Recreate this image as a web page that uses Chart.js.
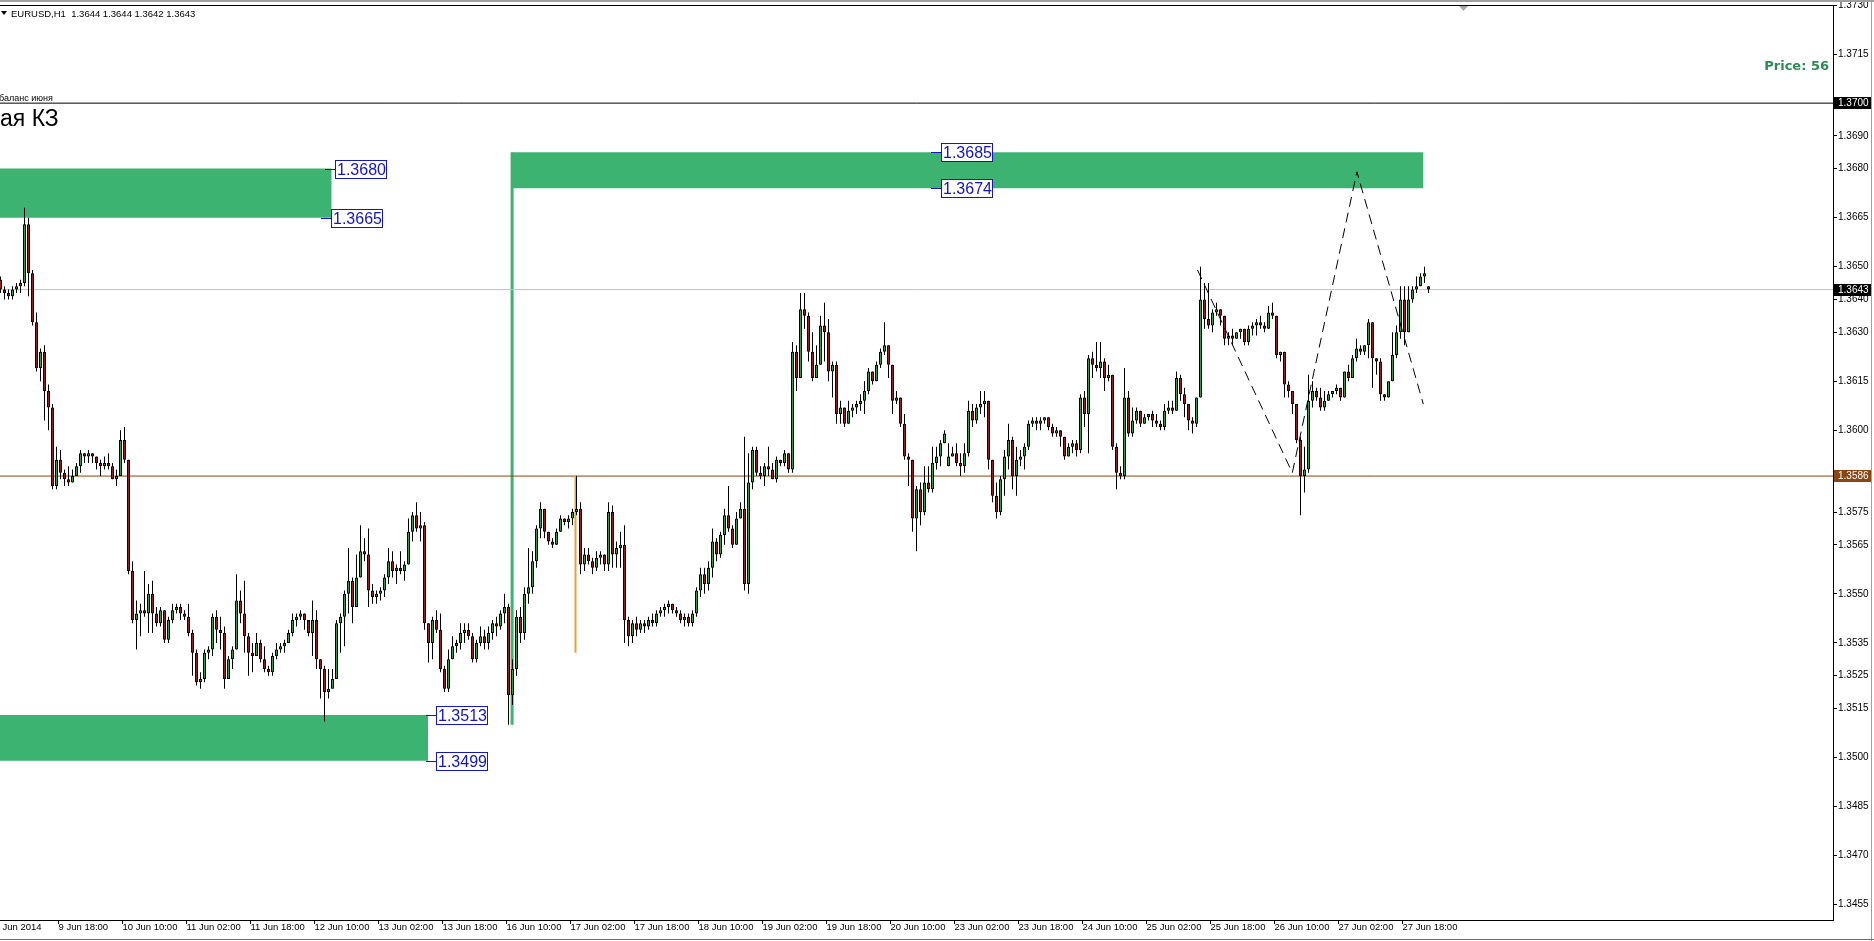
<!DOCTYPE html>
<html>
<head>
<meta charset="utf-8">
<title>EURUSD,H1</title>
<script src="https://cdn.jsdelivr.net/npm/chart.js@4.4.1/dist/chart.umd.min.js"></script>
<style>
  html, body { margin: 0; padding: 0; background: #fff; overflow: hidden; }
  canvas { display: block; }
</style>
</head>
<body>
<canvas id="chart" width="1874" height="941"></canvas>
<script>
// EURUSD H1, 9 Jun - 27 Jun 2014
const firstOpen = 1.3646;

const closes = [
  1.3643, 1.3642, 1.3641, 1.3643, 1.3644, 1.3645, 1.3663, 1.3648, 1.3633, 1.3619,
  1.3624, 1.3612, 1.3607, 1.3583, 1.3591, 1.3587, 1.3585, 1.3584, 1.3586, 1.3589,
  1.3593, 1.3592, 1.3593, 1.3592, 1.3590, 1.3589, 1.3590, 1.3589, 1.3585, 1.3586,
  1.3597, 1.3591, 1.3557, 1.3542, 1.3544, 1.3545, 1.3544, 1.3550, 1.3544, 1.3541,
  1.3545, 1.3536, 1.3542, 1.3545, 1.3546, 1.3544, 1.3543, 1.3538, 1.3532, 1.3523,
  1.3524, 1.3532, 1.3533, 1.3543, 1.3539, 1.3538, 1.3524, 1.3530, 1.3533, 1.3548,
  1.3544, 1.3537, 1.3532, 1.3531, 1.3535, 1.3530, 1.3527, 1.3526, 1.3531, 1.3533,
  1.3534, 1.3535, 1.3538, 1.3542, 1.3543, 1.3544, 1.3542, 1.3538, 1.3542, 1.3530,
  1.3527, 1.3520, 1.3521, 1.3524, 1.3541, 1.3543, 1.3550, 1.3554, 1.3546, 1.3555,
  1.3563, 1.3562, 1.3551, 1.3549, 1.3550, 1.3551, 1.3555, 1.3560, 1.3557, 1.3558,
  1.3557, 1.3559, 1.3569, 1.3574, 1.3570, 1.3571, 1.3541, 1.3535, 1.3542, 1.3539,
  1.3527, 1.3521, 1.3530, 1.3534, 1.3535, 1.3538, 1.3539, 1.3537, 1.3530, 1.3535,
  1.3537, 1.3535, 1.3538, 1.3541, 1.3540, 1.3544, 1.3546, 1.3519, 1.3527, 1.3543,
  1.3538, 1.3550, 1.3552, 1.3560, 1.3570, 1.3576, 1.3569, 1.3566, 1.3565, 1.3569,
  1.3573, 1.3572, 1.3573, 1.3575, 1.3576, 1.3559, 1.3562, 1.3560, 1.3558, 1.3561,
  1.3562, 1.3559, 1.3575, 1.3562, 1.3564, 1.3565, 1.3542, 1.3537, 1.3541, 1.3539,
  1.3541, 1.3540, 1.3542, 1.3541, 1.3544, 1.3545, 1.3546, 1.3547, 1.3545, 1.3544,
  1.3542, 1.3543, 1.3541, 1.3544, 1.3551, 1.3556, 1.3553, 1.3558, 1.3566, 1.3562,
  1.3568, 1.3574, 1.3570, 1.3565, 1.3573, 1.3576, 1.3553, 1.3584, 1.3594, 1.3587,
  1.3586, 1.3589, 1.3588, 1.3585, 1.3591, 1.3590, 1.3593, 1.3588, 1.3624, 1.3616,
  1.3637, 1.3635, 1.3624, 1.3616, 1.3620, 1.3632, 1.3630, 1.3618, 1.3620, 1.3605,
  1.3607, 1.3602, 1.3606, 1.3607, 1.3608, 1.3609, 1.3612, 1.3618, 1.3615, 1.3620,
  1.3624, 1.3626, 1.3620, 1.3609, 1.3610, 1.3602, 1.3592, 1.3591, 1.3573, 1.3582,
  1.3575, 1.3584, 1.3582, 1.3590, 1.3592, 1.3596, 1.3599, 1.3592, 1.3593, 1.3590,
  1.3589, 1.3593, 1.3606, 1.3603, 1.3607, 1.3608, 1.3609, 1.3591, 1.3580, 1.3575,
  1.3585, 1.3592, 1.3597, 1.3586, 1.3591, 1.3592, 1.3595, 1.3602, 1.3603, 1.3602,
  1.3603, 1.3604, 1.3601, 1.3599, 1.3600, 1.3598, 1.3592, 1.3595, 1.3596, 1.3594,
  1.3610, 1.3605, 1.3622, 1.3620, 1.3619, 1.3621, 1.3616, 1.3617, 1.3595, 1.3587,
  1.3586, 1.3610, 1.3599, 1.3603, 1.3606, 1.3602, 1.3604, 1.3605, 1.3603, 1.3602,
  1.3601, 1.3606, 1.3607, 1.3606, 1.3616, 1.3611, 1.3608, 1.3603, 1.3602, 1.3610,
  1.3640, 1.3634, 1.3632, 1.3636, 1.3637, 1.3635, 1.3628, 1.3629, 1.3628, 1.3630,
  1.3631, 1.3627, 1.3631, 1.3632, 1.3633, 1.3632, 1.3631, 1.3636, 1.3635, 1.3623,
  1.3624, 1.3614, 1.3612, 1.3608, 1.3597, 1.3586, 1.3588, 1.3609, 1.3612, 1.3610,
  1.3607, 1.3609, 1.3611, 1.3612, 1.3613, 1.3610, 1.3618, 1.3616, 1.3622, 1.3625,
  1.3624, 1.3626, 1.3633, 1.3622, 1.3621, 1.3611, 1.3610, 1.3615, 1.3623, 1.3630,
  1.3640, 1.3630, 1.3640, 1.3643, 1.3644, 1.3647, 1.3648, 1.3643
];

const highs = [
  1.3647, 1.3644, 1.3643, 1.3644, 1.3645, 1.3646, 1.3668, 1.3665, 1.3649, 1.3636,
  1.3625, 1.3626, 1.3614, 1.3608, 1.3595, 1.3594, 1.3588, 1.3589, 1.3588, 1.3590,
  1.3594, 1.3593, 1.3594, 1.3593, 1.3592, 1.3591, 1.3592, 1.3593, 1.3590, 1.3588,
  1.3600, 1.3601, 1.3591, 1.3560, 1.3548, 1.3547, 1.3557, 1.3553, 1.3554, 1.3546,
  1.3546, 1.3545, 1.3543, 1.3547, 1.3547, 1.3547, 1.3545, 1.3547, 1.3539, 1.3533,
  1.3526, 1.3533, 1.3534, 1.3544, 1.3545, 1.3543, 1.3540, 1.3531, 1.3534, 1.3556,
  1.3551, 1.3554, 1.3538, 1.3535, 1.3538, 1.3536, 1.3534, 1.3528, 1.3532, 1.3535,
  1.3535, 1.3536, 1.3539, 1.3544, 1.3544, 1.3545, 1.3544, 1.3542, 1.3548, 1.3545,
  1.3530, 1.3528, 1.3527, 1.3527, 1.3542, 1.3544, 1.3551, 1.3564, 1.3555, 1.3562,
  1.3571, 1.3567, 1.3570, 1.3553, 1.3551, 1.3552, 1.3556, 1.3564, 1.3563, 1.3559,
  1.3563, 1.3560, 1.3573, 1.3575, 1.3578, 1.3575, 1.3572, 1.3541, 1.3543, 1.3545,
  1.3544, 1.3528, 1.3533, 1.3537, 1.3536, 1.3541, 1.3541, 1.3541, 1.3538, 1.3536,
  1.3540, 1.3539, 1.3540, 1.3542, 1.3543, 1.3545, 1.3550, 1.3547, 1.3530, 1.3545,
  1.3546, 1.3552, 1.3564, 1.3563, 1.3571, 1.3578, 1.3576, 1.3569, 1.3567, 1.3570,
  1.3574, 1.3573, 1.3574, 1.3576, 1.3586, 1.3578, 1.3564, 1.3564, 1.3561, 1.3563,
  1.3563, 1.3562, 1.3578, 1.3577, 1.3566, 1.3569, 1.3571, 1.3543, 1.3542, 1.3543,
  1.3542, 1.3542, 1.3543, 1.3544, 1.3545, 1.3546, 1.3547, 1.3548, 1.3547, 1.3546,
  1.3545, 1.3544, 1.3544, 1.3545, 1.3552, 1.3558, 1.3558, 1.3560, 1.3570, 1.3567,
  1.3569, 1.3576, 1.3583, 1.3571, 1.3575, 1.3578, 1.3598, 1.3593, 1.3595, 1.3595,
  1.3589, 1.3590, 1.3595, 1.3590, 1.3592, 1.3591, 1.3594, 1.3593, 1.3627, 1.3626,
  1.3642, 1.3642, 1.3636, 1.3630, 1.3626, 1.3635, 1.3639, 1.3634, 1.3621, 1.3621,
  1.3609, 1.3607, 1.3609, 1.3608, 1.3609, 1.3611, 1.3615, 1.3619, 1.3618, 1.3621,
  1.3625, 1.3633, 1.3626, 1.3620, 1.3612, 1.3610, 1.3605, 1.3593, 1.3591, 1.3583,
  1.3584, 1.3589, 1.3589, 1.3595, 1.3595, 1.3597, 1.3600, 1.3596, 1.3595, 1.3596,
  1.3593, 1.3596, 1.3609, 1.3608, 1.3608, 1.3612, 1.3612, 1.3609, 1.3591, 1.3584,
  1.3586, 1.3594, 1.3602, 1.3598, 1.3595, 1.3594, 1.3596, 1.3603, 1.3604, 1.3604,
  1.3604, 1.3604, 1.3603, 1.3602, 1.3601, 1.3600, 1.3597, 1.3596, 1.3597, 1.3597,
  1.3611, 1.3612, 1.3623, 1.3624, 1.3627, 1.3627, 1.3622, 1.3620, 1.3617, 1.3596,
  1.3589, 1.3619, 1.3612, 1.3607, 1.3607, 1.3606, 1.3605, 1.3605, 1.3606, 1.3605,
  1.3603, 1.3608, 1.3609, 1.3609, 1.3618, 1.3617, 1.3613, 1.3607, 1.3604, 1.3610,
  1.3650, 1.3645, 1.3645, 1.3637, 1.3639, 1.3637, 1.3635, 1.3630, 1.3631, 1.3630,
  1.3631, 1.3631, 1.3632, 1.3633, 1.3634, 1.3635, 1.3633, 1.3638, 1.3639, 1.3635,
  1.3624, 1.3624, 1.3615, 1.3612, 1.3607, 1.3598, 1.3595, 1.3617, 1.3615, 1.3613,
  1.3613, 1.3612, 1.3612, 1.3612, 1.3614, 1.3613, 1.3618, 1.3620, 1.3623, 1.3628,
  1.3626, 1.3626, 1.3634, 1.3633, 1.3622, 1.3622, 1.3611, 1.3615, 1.3630, 1.3632,
  1.3644, 1.3644, 1.3644, 1.3644, 1.3647, 1.3648, 1.3650, 1.3644
];

const lows = [
  1.3642, 1.3640, 1.3640, 1.3640, 1.3642, 1.3642, 1.3644, 1.3641, 1.3632, 1.3618,
  1.3615, 1.3603, 1.3600, 1.3582, 1.3582, 1.3585, 1.3583, 1.3583, 1.3584, 1.3586,
  1.3587, 1.3590, 1.3590, 1.3590, 1.3588, 1.3586, 1.3588, 1.3588, 1.3585, 1.3583,
  1.3586, 1.3590, 1.3556, 1.3541, 1.3533, 1.3537, 1.3543, 1.3538, 1.3538, 1.3540,
  1.3540, 1.3535, 1.3535, 1.3541, 1.3544, 1.3542, 1.3542, 1.3537, 1.3525, 1.3522,
  1.3521, 1.3523, 1.3530, 1.3531, 1.3535, 1.3533, 1.3521, 1.3524, 1.3527, 1.3533,
  1.3541, 1.3532, 1.3525, 1.3526, 1.3531, 1.3529, 1.3526, 1.3525, 1.3525, 1.3530,
  1.3532, 1.3532, 1.3535, 1.3537, 1.3540, 1.3542, 1.3539, 1.3537, 1.3531, 1.3527,
  1.3518, 1.3511, 1.3518, 1.3521, 1.3524, 1.3532, 1.3534, 1.3544, 1.3541, 1.3546,
  1.3555, 1.3560, 1.3546, 1.3547, 1.3547, 1.3548, 1.3549, 1.3553, 1.3555, 1.3553,
  1.3556, 1.3554, 1.3559, 1.3566, 1.3569, 1.3566, 1.3539, 1.3529, 1.3530, 1.3538,
  1.3526, 1.3520, 1.3520, 1.3530, 1.3532, 1.3533, 1.3535, 1.3536, 1.3529, 1.3529,
  1.3534, 1.3533, 1.3533, 1.3536, 1.3537, 1.3539, 1.3541, 1.3510, 1.3516, 1.3525,
  1.3535, 1.3536, 1.3547, 1.3550, 1.3558, 1.3567, 1.3567, 1.3565, 1.3564, 1.3565,
  1.3569, 1.3571, 1.3570, 1.3571, 1.3574, 1.3556, 1.3557, 1.3559, 1.3556, 1.3557,
  1.3559, 1.3557, 1.3557, 1.3558, 1.3558, 1.3558, 1.3535, 1.3534, 1.3535, 1.3537,
  1.3538, 1.3538, 1.3539, 1.3540, 1.3540, 1.3543, 1.3543, 1.3544, 1.3544, 1.3543,
  1.3541, 1.3540, 1.3540, 1.3540, 1.3543, 1.3549, 1.3550, 1.3551, 1.3555, 1.3560,
  1.3561, 1.3565, 1.3569, 1.3564, 1.3565, 1.3573, 1.3551, 1.3550, 1.3582, 1.3586,
  1.3585, 1.3583, 1.3586, 1.3585, 1.3584, 1.3589, 1.3589, 1.3587, 1.3587, 1.3612,
  1.3616, 1.3631, 1.3621, 1.3615, 1.3616, 1.3620, 1.3621, 1.3615, 1.3610, 1.3602,
  1.3602, 1.3601, 1.3602, 1.3604, 1.3605, 1.3606, 1.3605, 1.3611, 1.3614, 1.3615,
  1.3619, 1.3623, 1.3616, 1.3605, 1.3608, 1.3601, 1.3591, 1.3583, 1.3569, 1.3563,
  1.3571, 1.3574, 1.3581, 1.3581, 1.3588, 1.3589, 1.3596, 1.3589, 1.3592, 1.3589,
  1.3586, 1.3587, 1.3592, 1.3601, 1.3602, 1.3605, 1.3604, 1.3588, 1.3578, 1.3573,
  1.3574, 1.3580, 1.3588, 1.3582, 1.3580, 1.3589, 1.3588, 1.3594, 1.3601, 1.3600,
  1.3600, 1.3602, 1.3600, 1.3598, 1.3598, 1.3595, 1.3591, 1.3592, 1.3593, 1.3592,
  1.3593, 1.3601, 1.3593, 1.3616, 1.3618, 1.3616, 1.3612, 1.3615, 1.3594, 1.3582,
  1.3585, 1.3585, 1.3598, 1.3598, 1.3602, 1.3601, 1.3602, 1.3603, 1.3601, 1.3601,
  1.3600, 1.3600, 1.3605, 1.3605, 1.3606, 1.3609, 1.3604, 1.3600, 1.3599, 1.3601,
  1.3610, 1.3631, 1.3631, 1.3630, 1.3635, 1.3632, 1.3626, 1.3626, 1.3626, 1.3628,
  1.3628, 1.3626, 1.3626, 1.3629, 1.3629, 1.3631, 1.3630, 1.3631, 1.3634, 1.3622,
  1.3621, 1.3610, 1.3610, 1.3605, 1.3596, 1.3574, 1.3581, 1.3587, 1.3607, 1.3609,
  1.3606, 1.3606, 1.3609, 1.3610, 1.3611, 1.3609, 1.3610, 1.3615, 1.3616, 1.3621,
  1.3623, 1.3623, 1.3622, 1.3613, 1.3617, 1.3609, 1.3609, 1.3610, 1.3615, 1.3622,
  1.3628, 1.3626, 1.3631, 1.3639, 1.3642, 1.3644, 1.3645, 1.3642
];

// bars whose open does not equal the previous close (weekend gap, live bar)
const gapOpens = { 237: 1.3589, 357: 1.3644 };

// price axis labels as the terminal printed them
const yTicks = [1.3730, 1.3715, 1.3690, 1.3680, 1.3665, 1.3650, 1.3640, 1.3630, 1.3615, 1.3600,
                1.3575, 1.3565, 1.3550, 1.3535, 1.3525, 1.3515, 1.3500, 1.3485, 1.3470, 1.3455];

const timeLabels = ['9 Jun 2014', '9 Jun 18:00', '10 Jun 10:00', '11 Jun 02:00', '11 Jun 18:00', '12 Jun 10:00',
                    '13 Jun 02:00', '13 Jun 18:00', '16 Jun 10:00', '17 Jun 02:00', '17 Jun 18:00', '18 Jun 10:00',
                    '19 Jun 02:00', '19 Jun 18:00', '20 Jun 10:00', '23 Jun 02:00', '23 Jun 18:00', '24 Jun 10:00',
                    '25 Jun 02:00', '25 Jun 18:00', '26 Jun 10:00', '27 Jun 02:00', '27 Jun 18:00'];
const timeBars = [-1, 15, 31, 47, 63, 79, 95, 111, 127, 143, 159, 175,
                  191, 207, 223, 239, 255, 271, 287, 303, 319, 335, 351];

// green zones: from bar, to bar, top, bottom
const zoneFrom = [-0.125, -0.125, 128.1];
const zoneTo = [82.8, 106.9, 355.75];
const zoneTop = [1.3680, 1.3513, 1.3685];
const zoneBottom = [1.3665, 1.3499, 1.3674];

// vertical zone edge
const edgeBar = 127.9;
const edgeTop = 1.3685;
const edgeBottom = 1.3510;

// price tags next to the zones
const tagPrices = [1.3680, 1.3665, 1.3513, 1.3499, 1.3685, 1.3674];
const tagBars = [81.1, 80.1, 106.3, 106.3, 232.6, 232.6];

// dashed pattern
const patternBars = [299.25, 322.95, 339.1, 355.7];
const patternPrices = [1.3649, 1.3587, 1.3679, 1.3608];

// orange marker on the 17 Jun spike
const markerBar = 143.75;
const markerHigh = 1.3586;
const markerLow = 1.3532;

const bidPrice = 1.3643;
const levelPrice = 1.3586;
const roundPrice = 1.3700;

const xMin = -0.125, xMax = 458.125;
const yMin = 1.34503, yMax = 1.3730;

const axisFont = '"Liberation Sans", Arial, sans-serif';
const bull = '#3c9a46';
const bear = '#9c1c1c';
const zoneColor = '#3cb371';
const tagColor = '#1414c8';

const opens = closes.map((c, i) => i === 0 ? firstOpen : (gapOpens[i] !== undefined ? gapOpens[i] : closes[i - 1]));
const bodies = closes.map((c, i) => ({ x: i, y: [opens[i], c] }));
const wicks = closes.map((c, i) => ({ x: i, y: [Math.min(lows[i], opens[i], c), Math.max(highs[i], opens[i], c)] }));
const bodyColors = closes.map((c, i) => c >= opens[i] ? bull : bear);

function lineSet(points, color, width, extra) {
    return Object.assign({
        type: 'line',
        data: points,
        borderColor: color,
        borderWidth: width,
        pointRadius: 0,
        fill: false,
        tension: 0
    }, extra || {});
}

function horizontal(price) {
    return [{ x: xMin, y: price }, { x: xMax, y: price }];
}

const zoneSets = zoneTop.map((top, i) => lineSet(
    [{ x: zoneFrom[i], y: top }, { x: zoneTo[i], y: top }],
    zoneColor, 0,
    { fill: { value: zoneBottom[i] }, backgroundColor: zoneColor }
));

const overlay = {
    id: 'overlay',
    beforeDraw(chart) {
        const ctx = chart.ctx;
        ctx.save();
        ctx.fillStyle = '#fff';
        ctx.fillRect(0, 0, chart.width, chart.height);
        ctx.restore();
    },
    afterDraw(chart) {
        const { ctx, chartArea: area } = chart;
        const x = chart.scales.x, y = chart.scales.y;
        ctx.save();

        // window frame
        ctx.fillStyle = '#a0a0a0';
        ctx.fillRect(0, 0, chart.width, 2);
        ctx.fillRect(chart.width - 3, 0, 1, chart.height);
        ctx.fillStyle = '#6a6a6a';
        ctx.fillRect(0, chart.height - 2, chart.width, 1);
        ctx.fillStyle = '#000';
        ctx.fillRect(0, area.top, area.right + 1, 1);

        // chart shift marker
        ctx.fillStyle = '#a8a8a8';
        ctx.beginPath();
        ctx.moveTo(1459, area.top + 1);
        ctx.lineTo(1468, area.top + 1);
        ctx.lineTo(1463.5, area.top + 6);
        ctx.closePath();
        ctx.fill();

        // symbol header
        ctx.fillStyle = '#000';
        ctx.beginPath();
        ctx.moveTo(1, 11);
        ctx.lineTo(7, 11);
        ctx.lineTo(4, 15);
        ctx.closePath();
        ctx.fill();
        ctx.font = '9.5px ' + axisFont;
        ctx.textBaseline = 'middle';
        ctx.textAlign = 'left';
        ctx.fillText('EURUSD,H1  1.3644 1.3644 1.3642 1.3643', 11, 14);

        // text objects cut by the left edge
        ctx.font = '9px ' + axisFont;
        ctx.textBaseline = 'alphabetic';
        ctx.fillText('баланс июня', -1, 101);
        ctx.font = '23px ' + axisFont;
        ctx.fillText('ая КЗ', 0, 126);

        ctx.fillStyle = '#2e8b57';
        ctx.font = 'bold 13px "DejaVu Sans", Verdana, sans-serif';
        ctx.textAlign = 'right';
        ctx.fillText('Price: 56', area.right - 4, 70);

        // price tags
        ctx.lineWidth = 1;
        ctx.font = '16px ' + axisFont;
        ctx.textAlign = 'left';
        ctx.textBaseline = 'middle';
        tagPrices.forEach((p, i) => {
            const px = Math.round(x.getPixelForValue(tagBars[i]));
            const py = Math.round(y.getPixelForValue(p)) + 0.5;
            ctx.strokeStyle = tagColor;
            ctx.beginPath();
            ctx.moveTo(px, py);
            ctx.lineTo(px + 10, py);
            ctx.stroke();
            ctx.fillStyle = '#fff';
            ctx.fillRect(px + 10.5, py - 9, 51, 18);
            ctx.strokeRect(px + 10.5, py - 9, 51, 18);
            ctx.fillStyle = tagColor;
            ctx.fillText(p.toFixed(4), px + 12, py + 1);
        });

        // highlighted prices on the axis
        ctx.font = '10px ' + axisFont;
        [[roundPrice, '#000'], [bidPrice, '#000'], [levelPrice, '#8b4513']].forEach(([p, bg]) => {
            const py = Math.round(y.getPixelForValue(p));
            ctx.fillStyle = bg;
            ctx.fillRect(area.right + 1, py - 6, 37, 12);
            ctx.fillStyle = '#fff';
            ctx.fillText(p.toFixed(4), area.right + 5, py + 0.5);
        });

        ctx.restore();
    }
};

Chart.defaults.font.family = axisFont;
Chart.defaults.font.size = 10;
Chart.defaults.color = '#000';

new Chart(document.getElementById('chart'), {
    type: 'bar',
    data: {
        datasets: [
            lineSet(patternBars.map((b, i) => ({ x: b, y: patternPrices[i] })), '#000', 1, { borderDash: [10, 6] }),
            {
                type: 'bar',
                data: bodies,
                backgroundColor: bodyColors,
                borderColor: '#000',
                borderWidth: 1,
                borderSkipped: false,
                barThickness: 3,
                minBarLength: 1,
                grouped: false,
                inflateAmount: 0
            },
            {
                type: 'bar',
                data: wicks,
                backgroundColor: '#000',
                borderWidth: 0,
                barThickness: 1,
                grouped: false,
                inflateAmount: 0
            },
            lineSet([{ x: markerBar, y: markerHigh }, { x: markerBar, y: markerLow }], '#eba035', 2),
            lineSet(horizontal(bidPrice), '#c0c0c0', 1),
            lineSet(horizontal(levelPrice), '#8b4513', 1),
            lineSet(horizontal(roundPrice), '#000', 1),
            lineSet([{ x: edgeBar, y: edgeTop }, { x: edgeBar, y: edgeBottom }], zoneColor, 3),
            ...zoneSets
        ]
    },
    options: {
        responsive: false,
        devicePixelRatio: 1,
        animation: false,
        events: [],
        layout: { padding: { top: 5, left: 0, right: 0, bottom: 0 } },
        plugins: {
            legend: { display: false },
            tooltip: { enabled: false }
        },
        scales: {
            x: {
                type: 'linear',
                position: 'bottom',
                min: xMin,
                max: xMax,
                offset: false,
                afterBuildTicks: scale => { scale.ticks = timeBars.map(b => ({ value: b - 0.5 })); },
                afterFit: scale => { scale.height = 21; scale.paddingLeft = 0; scale.paddingRight = 0; },
                grid: { offset: false, drawOnChartArea: false, drawTicks: true, tickLength: 4, color: '#000' },
                border: { display: true, color: '#000', width: 1 },
                ticks: {
                    autoSkip: false,
                    maxRotation: 0,
                    minRotation: 0,
                    align: 'start',
                    padding: -2,
                    font: { size: 9.5 },
                    callback: (value, index) => timeLabels[index]
                }
            },
            y: {
                type: 'linear',
                position: 'right',
                min: yMin,
                max: yMax,
                beginAtZero: false,
                afterBuildTicks: scale => { scale.ticks = yTicks.map(v => ({ value: v })); },
                afterFit: scale => { scale.width = 41; scale.paddingTop = 0; scale.paddingBottom = 0; },
                grid: { drawOnChartArea: false, drawTicks: true, tickLength: 4, color: '#000' },
                border: { display: true, color: '#000', width: 1 },
                ticks: {
                    padding: 1,
                    font: { size: 10 },
                    callback: value => value.toFixed(4)
                }
            }
        }
    },
    plugins: [overlay]
});
</script>
</body>
</html>
